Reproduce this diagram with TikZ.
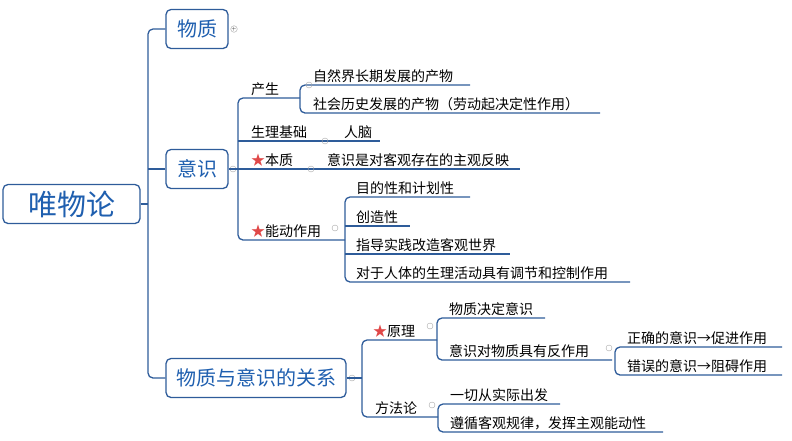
\documentclass[tikz,border=0pt]{standalone}
\usepackage{fontspec}
\setmainfont{Noto Sans CJK SC}
\definecolor{ln}{HTML}{2E5C9A}
\definecolor{bt}{HTML}{1F5FAF}
\definecolor{st}{HTML}{E04848}
\begin{document}
\begin{tikzpicture}[x=1pt,y=-1pt,
  lnk/.style={draw=ln,line width=1.3pt,rounded corners=5},
  box/.style={draw=ln,line width=1.3pt,rounded corners=5,text=bt,font=\fontsize{20}{22}\selectfont,inner sep=0pt,minimum height=39},
  lbl/.style={anchor=south west,inner sep=1pt,font=\fontsize{14}{16}\selectfont},
  tog/.style={circle,draw=gray!70,line width=0.4pt,inner sep=0pt,minimum size=6pt}]
\useasboundingbox (0,0) rectangle (792,440);
% boxes
\node[box,minimum width=137] (root) at (71.5,204) {\fontsize{29}{32}\selectfont 唯物论};
\node[box,minimum width=62] (wz) at (197,29) {物质};
\node[box,minimum width=62] (ys) at (197,169) {意识};
\node[box,minimum width=180] (rel) at (256,378) {物质与意识的关系};
% main spine
\draw[lnk] (wz.west) -- (148,29) -- (148,378) -- (rel.west);
\draw[lnk] (ys.west) -- (148,169);
\draw[lnk] (root.east) -- (148,204);
\node[tog] (t0) at (234,29) {\tiny$+$};
\node[tog] (t1) at (233,169) {};
\node[tog] (t2) at (352,378) {};
% 意识 subtree
\draw[lnk] (ys.east) -- (520,169);
\draw[lnk] (300,98) -- (238,98) -- (238,240) -- (345,240);
\draw[lnk] (238,141) -- (380,141);
\node[lbl] (cs) at (250,97) {产生};
\draw[lnk] (470,85) -- (300,85) -- (300,113) -- (600,113);
\node[lbl] (c1) at (312,84) {自然界长期发展的产物};
\node[lbl] (c2) at (312,112) {社会历史发展的产物（劳动起决定性作用）};
\node[lbl] (sl) at (250,140) {生理基础};
\node[lbl] (rn) at (343,140) {人脑};
\node[lbl] (bz) at (250,168) {{\color{st}★}本质};
\node[lbl] (bz1) at (326,168) {意识是对客观存在的主观反映};
\node[lbl] (nd) at (250,239) {{\color{st}★}能动作用};
\draw[lnk] (470,197) -- (345,197) -- (345,282) -- (630,282);
\draw[lnk] (345,226) -- (410,226);
\draw[lnk] (345,254) -- (510,254);
\node[lbl] (n1) at (355,196) {目的性和计划性};
\node[lbl] (n2) at (355,225) {创造性};
\node[lbl] (n3) at (355,253) {指导实践改造客观世界};
\node[lbl] (n4) at (355,281) {对于人体的生理活动具有调节和控制作用};
\foreach \p in {(309,85),(325,141),(311,169),(335,228)} \node[tog] at \p {};
% 关系 subtree
\draw[lnk] (rel.east) -- (362,378);
\draw[lnk] (437,340) -- (362,340) -- (362,417) -- (438,417);
\node[lbl] (yl) at (372,339) {{\color{st}★}原理};
\draw[lnk] (545,318) -- (437,318) -- (437,360) -- (612,360);
\node[lbl] (y1) at (448,317) {物质决定意识};
\node[lbl] (y2) at (448,359) {意识对物质具有反作用};
\draw[lnk] (782,347) -- (615,347) -- (615,375) -- (782,375);
\node[lbl] (z1) at (626,346) {正确的意识→促进作用};
\node[lbl] (z2) at (626,374) {错误的意识→阻碍作用};
\node[lbl] (ff) at (374,416) {方法论};
\draw[lnk] (560,404) -- (438,404) -- (438,432) -- (663,432);
\node[lbl] (f1) at (449,403) {一切从实际出发};
\node[lbl] (f2) at (449,431) {遵循客观规律，发挥主观能动性};
\foreach \p in {(430,326),(609,348),(432,405)} \node[tog] at \p {};
\end{tikzpicture}
\end{document}
